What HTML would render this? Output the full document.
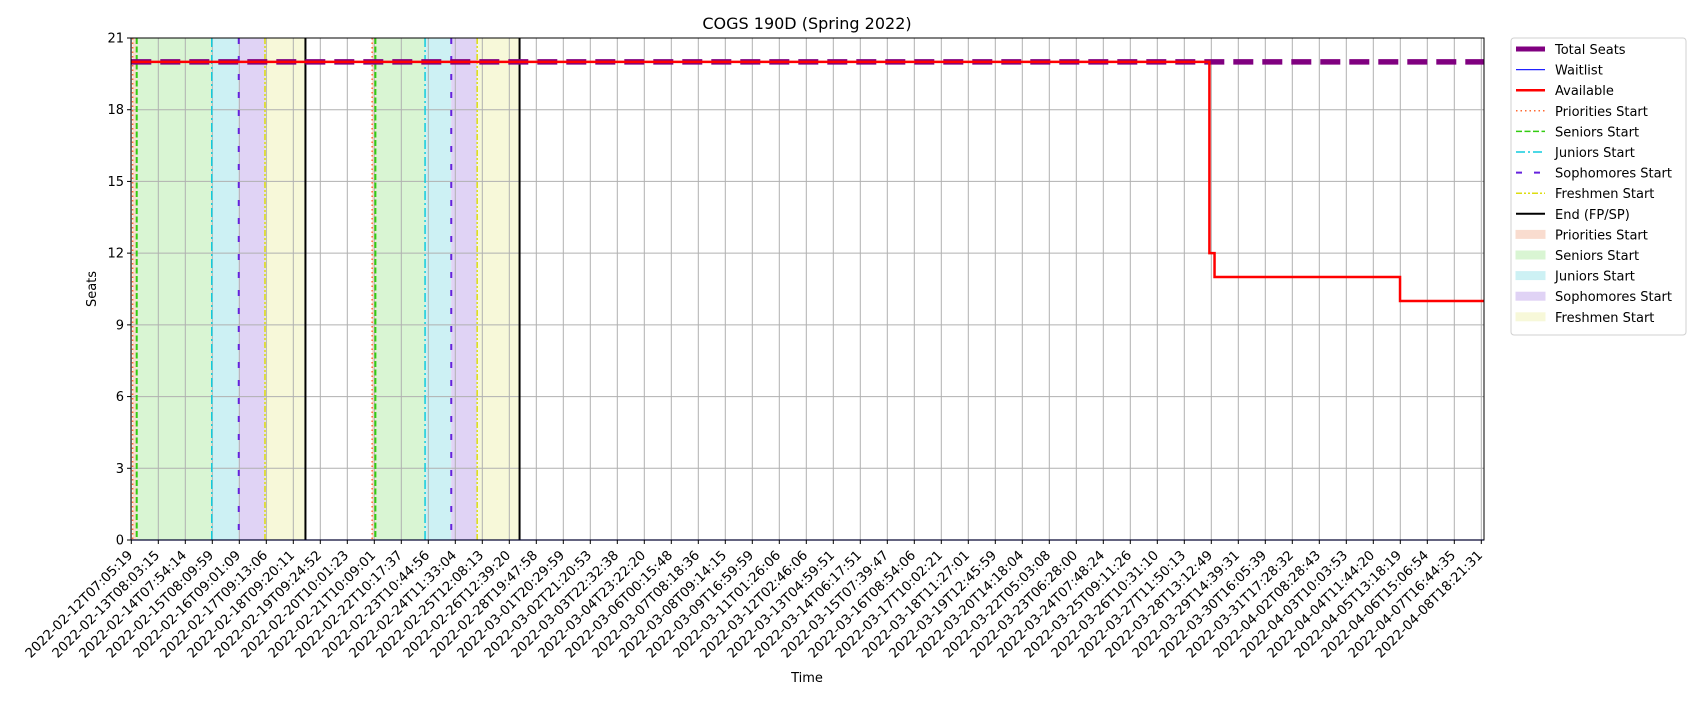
<!DOCTYPE html>
<html><head><meta charset="utf-8"><style>
body{margin:0;background:#fff;}
svg text{font-family:"DejaVu Sans","Liberation Sans",sans-serif;fill:#000;}
</style></head><body>
<svg id="chart" width="1700" height="700" xmlns="http://www.w3.org/2000/svg">
<g id="bands"></g>
<g id="grid"></g>
<g id="vlines"></g>
<g id="series"></g>
<rect x="131" y="38" width="1353" height="502" fill="none" stroke="#000" stroke-width="1"/>
<g id="axes"></g>
<text x="807" y="29" font-size="16" text-anchor="middle">COGS 190D (Spring 2022)</text>
<text x="96" y="289" font-size="13" text-anchor="middle" transform="rotate(-90 96 289)">Seats</text>
<text x="807" y="682" font-size="13" text-anchor="middle">Time</text>
<g id="legend"></g>
</svg>
<script>
const xTickLabels=["2022-02-12T07:05:19","2022-02-13T08:03:15","2022-02-14T07:54:14","2022-02-15T08:09:59","2022-02-16T09:01:09","2022-02-17T09:13:06","2022-02-18T09:20:11","2022-02-19T09:24:52","2022-02-20T10:01:23","2022-02-21T10:09:01","2022-02-22T10:17:37","2022-02-23T10:44:56","2022-02-24T11:33:04","2022-02-25T12:08:13","2022-02-26T12:39:20","2022-02-28T19:47:58","2022-03-01T20:29:59","2022-03-02T21:20:53","2022-03-03T22:32:38","2022-03-04T23:22:20","2022-03-06T00:15:48","2022-03-07T08:18:36","2022-03-08T09:14:15","2022-03-09T16:59:59","2022-03-11T01:26:06","2022-03-12T02:46:06","2022-03-13T04:59:51","2022-03-14T06:17:51","2022-03-15T07:39:47","2022-03-16T08:54:06","2022-03-17T10:02:21","2022-03-18T11:27:01","2022-03-19T12:45:59","2022-03-20T14:18:04","2022-03-22T05:03:08","2022-03-23T06:28:00","2022-03-24T07:48:24","2022-03-25T09:11:26","2022-03-26T10:31:10","2022-03-27T11:50:13","2022-03-28T13:12:49","2022-03-29T14:39:31","2022-03-30T16:05:39","2022-03-31T17:28:32","2022-04-02T08:28:43","2022-04-03T10:03:53","2022-04-04T11:44:20","2022-04-05T13:18:19","2022-04-06T15:06:54","2022-04-07T16:44:35","2022-04-08T18:21:31"];
const yTicks=[0,3,6,9,12,15,18,21];
// x positions in tick-index units
const totalSeatsX=[0,50.1];const totalSeatsY=[20,20];
const waitlistX=[0,50.1];const waitlistY=[0,0];
const availX=[0,39.93,39.93,40.12,40.12,46.99,46.99,50.1];
const availY=[20,20,12,12,11,11,10,10];
const prioStarts=[0.05,8.92];
const seniorStarts=[0.2,9.04];
const juniorStarts=[2.98,10.88];
const sophStarts=[3.98,11.85];
const freshStarts=[4.95,12.81];
const endTimes=[6.45,14.38];

const X0=131.3,DX=27.0,Y0=540,YT=38,YMAX=21;
const xs=v=>X0+v*DX, ys=v=>Y0-(v/YMAX)*(Y0-YT);
const NS="http://www.w3.org/2000/svg";
function mk(p,t,a){const e=document.createElementNS(NS,t);for(const k in a)e.setAttribute(k,a[k]);document.getElementById(p).appendChild(e);return e;}
const XL=131,XR=1484;
const bandDefs=[[prioStarts,seniorStarts,"#f9dccf"],[seniorStarts,juniorStarts,"#d9f5d3"],[juniorStarts,sophStarts,"#cdf1f4"],[sophStarts,freshStarts,"#e0d3f5"],[freshStarts,endTimes,"#f7f8d9"]];
bandDefs.forEach((b,bi)=>{b[0].forEach((s,i)=>{const r=mk('bands','rect',{x:xs(s),y:YT,width:xs(b[1][i])-xs(s),height:Y0-YT,fill:b[2]});

});});
xTickLabels.forEach((l,i)=>{const g=mk('grid','line',{x1:xs(i),x2:xs(i),y1:YT,y2:Y0,stroke:"#b0b0b0","stroke-width":1});

});
yTicks.forEach(v=>{const g=mk('grid','line',{x1:XL,x2:XR,y1:ys(v),y2:ys(v),stroke:"#b0b0b0","stroke-width":1});

});
const vDefs=[[prioStarts,"#ff6a33","1.5,3",1.5],[seniorStarts,"#33cc11","6,2.5",2],[juniorStarts,"#11ccdd","9,3,2,3",1.5],[sophStarts,"#6622dd","6,12",2],[freshStarts,"#dddd11","6,2,2,2,2,2",1.5],[endTimes,"#000","",2]];
vDefs.forEach(d=>d[0].forEach(v=>{const l=mk('vlines','line',{x1:xs(v),x2:xs(v),y1:YT,y2:Y0,stroke:d[1],"stroke-width":d[3],"stroke-dasharray":d[2]});

}));
function pts(X,Y){return X.map((x,i)=>xs(x)+","+ys(Y[i])).join(" ");}
let s=mk('series','polyline',{points:pts(waitlistX,waitlistY),fill:"none",stroke:"#2222ff","stroke-width":1.2});


s=mk('series','polyline',{points:pts(totalSeatsX,totalSeatsY),fill:"none",stroke:"#800080","stroke-width":5.5,"stroke-dasharray":"20,9"});


s=mk('series','polyline',{points:pts(availX,availY),fill:"none",stroke:"#ff0000","stroke-width":2.5});


yTicks.forEach(v=>{let t=mk('axes','line',{x1:XL-4,x2:XL,y1:ys(v),y2:ys(v),stroke:"#000"});


t=mk('axes','text',{x:XL-7,y:ys(v)+4.5,"font-size":13,"text-anchor":"end"});t.textContent=v;

});
xTickLabels.forEach((l,i)=>{let t=mk('axes','line',{x1:xs(i),x2:xs(i),y1:Y0,y2:Y0+4,stroke:"#000"});


const x=xs(i)+2,y=Y0+16;
t=mk('axes','text',{x:x,y:y,"font-size":13.3,"text-anchor":"end",transform:`rotate(-45 ${x} ${y})`});t.textContent=l;

});
const legendLabels=["Total Seats","Waitlist","Available","Priorities Start","Seniors Start","Juniors Start","Sophomores Start","Freshmen Start","End (FP/SP)","Priorities Start","Seniors Start","Juniors Start","Sophomores Start","Freshmen Start"];
const LX=1511,LY=38;
let box=mk('legend','rect',{x:LX,y:LY,width:175,height:297,fill:"#fff",stroke:"#d0d0d0",rx:3});


const lineSty=[["#800080",5,""],["#2222ff",1.2,""],["#ff0000",2.5,""],["#ff6a33",1.5,"1.5,3"],["#33cc11",1.5,"6,2.5"],["#11ccdd",1.5,"9,3,2,3"],["#6622dd",2,"6,12"],["#dddd11",1.5,"6,2,2,2,2,2"],["#000",2,""]];
const patch=["#f9dccf","#d9f5d3","#cdf1f4","#e0d3f5","#f7f8d9"];
legendLabels.forEach((lab,i)=>{const y=LY+11+i*20.6;
if(i<9){const st=lineSty[i];const l=mk('legend','line',{x1:LX+5,x2:LX+34,y1:y,y2:y,stroke:st[0],"stroke-width":st[1],"stroke-dasharray":st[2]});

}
else{const r=mk('legend','rect',{x:LX+5,y:y-4,width:29,height:8,fill:patch[i-9],stroke:patch[i-9]});

}
const t=mk('legend','text',{x:LX+44,y:y+5,"font-size":13});t.textContent=lab;

});
</script>
</body></html>
